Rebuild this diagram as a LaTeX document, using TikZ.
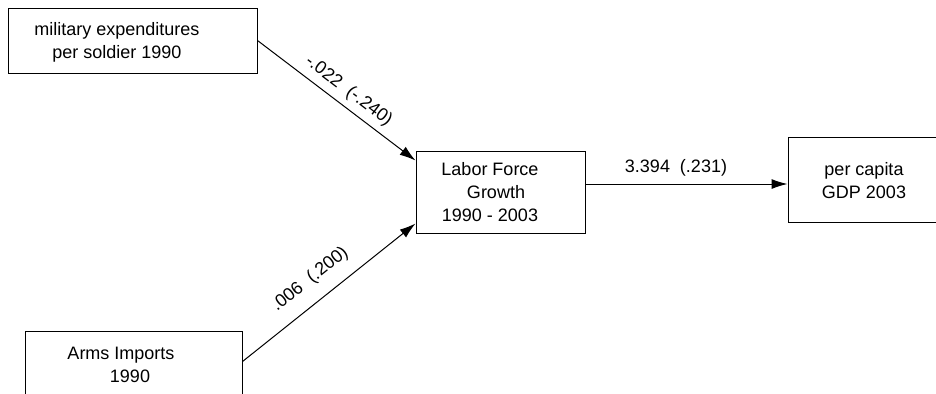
\documentclass[tikz,border=0pt]{standalone}
\usepackage{fontspec}
\setmainfont{Liberation Sans}
\usetikzlibrary{arrows.meta,calc}
\begin{document}
\begin{tikzpicture}[x=0.5pt,y=-0.5pt,
  box/.style={draw=black,line width=0.5pt,rectangle,inner sep=0pt},
  txt/.style={inner sep=0pt,align=center,font=\fontsize{9}{11.5}\selectfont},
  lbl/.style={inner sep=0pt,font=\fontsize{9}{11}\selectfont},
  arr/.style={draw=black,line width=0.5pt,-{Latex[length=8pt,width=5pt]}}]
\useasboundingbox (0,0) rectangle (936,393);
\clip (0,0) rectangle (936,393);
% boxes
\node[box,minimum width=124.5pt,minimum height=32.5pt] (mil) at (132.5,40.5) {};
\node[box,minimum width=108.5pt,minimum height=34.5pt] (arms) at (133.5,365.5) {};
\node[box,minimum width=84.5pt,minimum height=41pt] (lab) at (500.5,192) {};
\node[box,minimum width=86pt,minimum height=42.5pt] (gdp) at (874,179.5) {};
% texts
\node[txt] (milt) at (117,42) {military expenditures\\per soldier 1990};
\node[txt] (armst) at (121,365) {Arms Imports\\\hspace*{9pt}1990};
\node[txt] (labt) at (490,192) {Labor Force\\\hspace*{6pt}Growth\\1990 - 2003};
\node[txt] (gdpt) at (864,180.5) {per capita\\GDP 2003};
% connectors
\draw[arr] (mil.east) -- ($(lab.north west)+(0,10)$)
  node[lbl,pos=0.52,sloped,above=3pt] (l1) {-.022\ \ (-.240)};
\draw[arr] ($(arms.north east)+(0,31)$) -- ($(lab.south west)+(0,-10)$)
  node[lbl,pos=0.47,sloped,above=6.5pt] (l2) {.006\ \ (.200)};
\draw[arr] ($(lab.east)+(0,-8)$) coordinate (s3) -- (s3 -| gdp.west)
  node[lbl,pos=0.448,above=3.5pt] (l3) {3.394\ \ (.231)};
\end{tikzpicture}
\end{document}
